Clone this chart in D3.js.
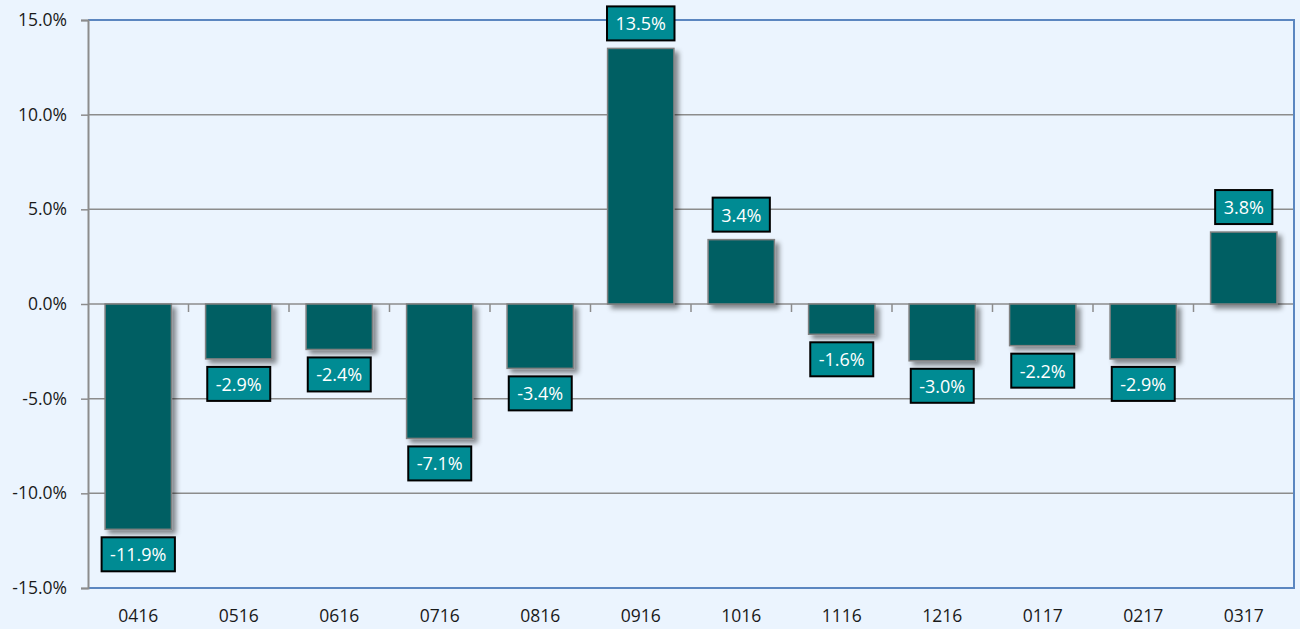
<!DOCTYPE html>
<html>
<head>
<meta charset="utf-8">
<script src="https://cdn.jsdelivr.net/npm/d3@7"></script>
<style>
  html, body { margin: 0; padding: 0; background: #EBF4FE; }
  svg { display: block; }
  text { font-family: "Open Sans", "Liberation Sans", sans-serif; }
</style>
</head>
<body>
<svg id="chart" width="1300" height="629"></svg>
<script>
const categories = ["0416","0516","0616","0716","0816","0916","1016","1116","1216","0117","0217","0317"];
const values = [-11.9, -2.9, -2.4, -7.1, -3.4, 13.5, 3.4, -1.6, -3.0, -2.2, -2.9, 3.8];
const yTicks = [-15, -10, -5, 0, 5, 10, 15];

const fmt = d => d3.format(".1f")(d).replace("\u2212", "-") + "%";

const svg = d3.select("#chart");
const W = 1300, H = 629;
const mLeft = 88, mRight = 1294, mTop = 20, mBottom = 588;

svg.append("rect").attr("width", W).attr("height", H).attr("fill", "#EBF4FE");

const defs = svg.append("defs");
const f = defs.append("filter").attr("id", "shadow")
  .attr("x", "-20%").attr("y", "-20%").attr("width", "150%").attr("height", "150%");
f.append("feDropShadow").attr("dx", 4).attr("dy", 4).attr("stdDeviation", 2.5)
  .attr("flood-color", "#000").attr("flood-opacity", 0.45);

const x = d3.scaleBand().domain(categories).range([mLeft, mRight]).paddingInner(0.34).paddingOuter(0.17);
const xb = d3.scaleBand().domain(categories).range([mLeft, mRight]);
const y = d3.scaleLinear().domain([-15, 15]).range([mBottom, mTop]);

// gridlines
svg.append("g").selectAll("line").data(yTicks.filter(t => t !== 15 && t !== -15)).join("line")
  .attr("x1", mLeft).attr("x2", mRight)
  .attr("y1", d => y(d)).attr("y2", d => y(d))
  .attr("stroke", "#8C8C8C").attr("stroke-width", 1.5);

// blue border top/right/bottom
svg.append("path")
  .attr("d", `M${mLeft},${y(15)}H${mRight}V${y(-15)}H${mLeft}`)
  .attr("fill", "none").attr("stroke", "#5B86C0").attr("stroke-width", 2);

// y axis
const yAxis = d3.axisLeft(y).tickValues(yTicks).tickSize(7).tickPadding(14)
  .tickFormat(fmt);
const ga = svg.append("g").attr("transform", `translate(${mLeft},0)`).call(yAxis);
ga.select(".domain").attr("stroke", "#8C8C8C").attr("stroke-width", 2);
ga.selectAll(".tick line").attr("stroke", "#8C8C8C").attr("stroke-width", 1.5);
ga.selectAll(".tick text").attr("font-size", 17.5).attr("fill", "#1a1a1a")
  .attr("font-family", "Open Sans, sans-serif");

// zero line category tick marks
svg.append("g").selectAll("line").data(categories.slice(1)).join("line")
  .attr("x1", d => xb(d)).attr("x2", d => xb(d))
  .attr("y1", y(0)).attr("y2", y(0) + 8)
  .attr("stroke", "#8C8C8C").attr("stroke-width", 1.5);

// bars
svg.append("g").selectAll("rect").data(values).join("rect")
  .attr("x", (d, i) => x(categories[i]))
  .attr("width", x.bandwidth())
  .attr("y", d => y(Math.max(0, d)))
  .attr("height", d => Math.abs(y(d) - y(0)))
  .attr("fill", "#005F63")
  .attr("stroke", "#808080").attr("stroke-width", 1.5)
  .attr("filter", "url(#shadow)");

// x labels
svg.append("g").selectAll("text").data(categories).join("text")
  .attr("x", d => xb(d) + xb.bandwidth() / 2)
  .attr("y", 622)
  .attr("text-anchor", "middle")
  .attr("font-size", 17.5).attr("fill", "#1a1a1a")
  .text(d => d);

// data labels
const lab = svg.append("g").selectAll("g").data(values).join("g");
lab.each(function(d, i) {
  const g = d3.select(this);
  const cx = xb(categories[i]) + xb.bandwidth() / 2;
  const boxH = 34;
  const cy = d >= 0 ? y(d) - 8 - boxH / 2 : y(d) + 8 + boxH / 2;
  const rect = g.append("rect");
  const t = g.append("text")
    .attr("x", cx).attr("y", cy)
    .attr("text-anchor", "middle").attr("dominant-baseline", "central")
    .attr("font-size", 18).attr("fill", "#ffffff")
    .text(fmt(d));
  const w = t.node().getComputedTextLength() + 17;
  rect.attr("x", cx - w / 2).attr("y", cy - boxH / 2)
    .attr("width", w).attr("height", boxH)
    .attr("fill", "#008B93").attr("stroke", "#000").attr("stroke-width", 2);
});
</script>
</body>
</html>
